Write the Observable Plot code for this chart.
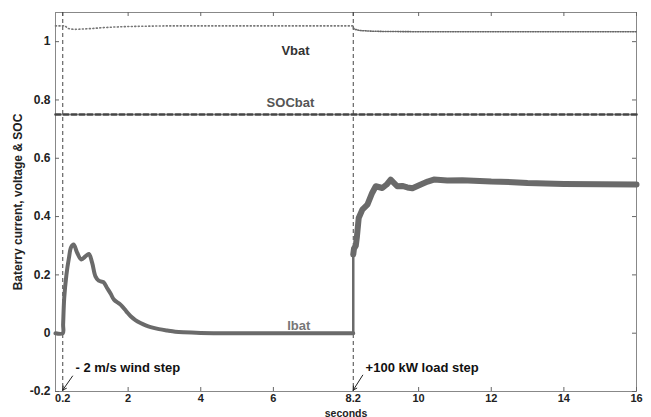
<!DOCTYPE html>
<html><head><meta charset="utf-8">
<script src="https://cdn.jsdelivr.net/npm/d3@7"></script>
<script src="https://cdn.jsdelivr.net/npm/@observablehq/plot@0.6"></script>
<style>body{margin:0;background:#fff}</style>
</head><body><div id="chart"></div>
<script>
// Tick values
const xTicks = [0.2, 2, 4, 6, 8.2, 10, 12, 14, 16];
const yTicks = [-0.2, 0, 0.2, 0.4, 0.6, 0.8, 1];

// Ibat (battery current), before and after the load step
const ibatT1 = [0, 0.2, 0.21, 0.24, 0.30, 0.37, 0.43, 0.50, 0.60, 0.71, 0.83, 0.92, 1.01, 1.10, 1.19, 1.32, 1.42, 1.52, 1.61, 1.79, 1.95, 2.07, 2.2, 2.34, 2.5, 2.62, 2.85, 3.08, 3.3, 3.53, 4.0, 5, 6, 7, 8.2];
const ibatV1 = [0, 0, 0.03, 0.12, 0.20, 0.258, 0.295, 0.304, 0.275, 0.253, 0.264, 0.272, 0.241, 0.195, 0.18, 0.175, 0.155, 0.135, 0.115, 0.098, 0.075, 0.058, 0.045, 0.035, 0.026, 0.021, 0.014, 0.009, 0.005, 0.003, 0.001, 0, 0, 0, 0];
const ibatJumpT = [8.2, 8.2];
const ibatJumpV = [0, 0.27];
const ibatT2 = [8.2, 8.22, 8.27, 8.3, 8.35, 8.45, 8.59, 8.72, 8.82, 9.0, 9.12, 9.23, 9.41, 9.55, 9.69, 9.83, 10.06, 10.25, 10.42, 10.79, 11.2, 11.52, 12, 12.6, 13, 14, 15, 16];
const ibatV2 = [0.27, 0.29, 0.30, 0.33, 0.395, 0.424, 0.441, 0.481, 0.504, 0.498, 0.51, 0.527, 0.504, 0.505, 0.50, 0.497, 0.51, 0.52, 0.527, 0.524, 0.525, 0.523, 0.52, 0.518, 0.515, 0.512, 0.511, 0.51];

// Vbat (battery voltage)
const vbatT1 = [0, 0.2, 0.25, 0.35, 0.5, 0.7, 1.0, 1.3, 1.6, 2.0, 3.0, 5, 8.2];
const vbatV1 = [1.054, 1.054, 1.055, 1.045, 1.042, 1.043, 1.045, 1.048, 1.05, 1.052, 1.054, 1.054, 1.054];
const vbatT2 = [8.2, 8.25, 8.4, 8.7, 9, 10, 12, 14, 16];
const vbatV2 = [1.047, 1.042, 1.038, 1.036, 1.035, 1.034, 1.034, 1.034, 1.034];

// SOCbat
const socT = [0, 16];
const socV = [0.75, 0.75];

// Event times
const eventTimes = [0.2, 8.2];

// Series labels
const seriesNames = ["Vbat", "SOCbat", "Ibat"];
const seriesLabelX = [6.61, 6.47, 6.7];
const seriesLabelY = [0.97, 0.79, 0.024];
const seriesLabelColor = ["#333", "#555", "#777"];

// Event annotations
const eventNames = ["- 2 m/s wind step", "+100 kW load step"];
const eventTextX = [0.55, 8.54];
const eventTextY = [-0.12, -0.12];
const arrowX1 = [0.47, 8.46];
const arrowY1 = [-0.147, -0.144];
const arrowX2 = [0.2, 8.2];
const arrowY2 = [-0.195, -0.195];

const zip = (t, v) => t.map((d, i) => ({t: d, v: v[i]}));
const ibat1 = zip(ibatT1, ibatV1);
const ibatJump = zip(ibatJumpT, ibatJumpV);
const ibat2 = zip(ibatT2, ibatV2);
const vbat1 = zip(vbatT1, vbatV1);
const vbat2 = zip(vbatT2, vbatV2);
const soc = zip(socT, socV);
const seriesLabels = seriesNames.map((n, i) => ({n, x: seriesLabelX[i], y: seriesLabelY[i], c: seriesLabelColor[i]}));
const events = eventNames.map((n, i) => ({n, x: eventTextX[i], y: eventTextY[i], x1: arrowX1[i], y1: arrowY1[i], x2: arrowX2[i], y2: arrowY2[i]}));

const W = 651, H = 417, mT = 12, mB = 26, mL = 55, mR = 15;
const innerH = H - mT - mB, innerW = W - mL - mR;
const fmt = d => String(d);

const chart = Plot.plot({
  width: W, height: H,
  marginLeft: mL, marginRight: mR, marginTop: mT, marginBottom: mB,
  style: {fontFamily: "'Liberation Sans', Arial, sans-serif", fontSize: "12px", fontWeight: "bold", color: "#222", background: "#fff"},
  x: {domain: [0, 16]},
  y: {domain: [-0.2, 1.1]},
  marks: [
    Plot.frame({stroke: "#888"}),
    // inward ticks on all four sides
    Plot.ruleX(xTicks, {insetTop: innerH - 4, stroke: "#666"}),
    Plot.ruleX(xTicks, {insetBottom: innerH - 4, stroke: "#666"}),
    Plot.ruleY(yTicks, {insetRight: innerW - 4, stroke: "#666"}),
    Plot.ruleY(yTicks, {insetLeft: innerW - 4, stroke: "#666"}),
    Plot.axisX(xTicks, {tickSize: 0, tickPadding: 3, tickFormat: fmt, fontSize: 11}),
    Plot.axisX({ticks: [], label: "seconds", labelAnchor: "center", labelOffset: 25, labelArrow: "none", fontSize: 10.5}),
    Plot.axisY(yTicks, {tickSize: 0, tickPadding: 5, tickFormat: fmt, label: "Baterry current, voltage & SOC", labelAnchor: "center", labelOffset: 42, labelArrow: "none", fontSize: 12}),
    Plot.ruleX(eventTimes, {stroke: "#444", strokeWidth: 1, strokeDasharray: "4,3"}),
    Plot.line(soc, {x: "t", y: "v", stroke: "#444", strokeWidth: 2.6, strokeDasharray: "5,3"}),
    Plot.line(vbat1, {x: "t", y: "v", stroke: "#777", strokeWidth: 1.6, strokeDasharray: "1,2.5"}),
    Plot.line(vbat2, {x: "t", y: "v", stroke: "#666", strokeWidth: 1.6, strokeDasharray: "1,1.5"}),
    Plot.line(ibat1, {x: "t", y: "v", stroke: "#6a6a6a", strokeWidth: 4, curve: "catmull-rom"}),
    Plot.line(ibatJump, {x: "t", y: "v", stroke: "#6a6a6a", strokeWidth: 2.5}),
    Plot.line(ibat2, {x: "t", y: "v", stroke: "#6a6a6a", strokeWidth: 6, curve: "linear"}),
    Plot.text(seriesLabels, {x: "x", y: "y", text: "n", fill: "c", fontSize: 13, fontWeight: "bold"}),
    Plot.text(events, {x: "x", y: "y", text: "n", fill: "#111", fontSize: 13, fontWeight: "bold", textAnchor: "start"}),
    Plot.arrow(events, {x1: "x1", y1: "y1", x2: "x2", y2: "y2", stroke: "#222", strokeWidth: 1, headLength: 6})
  ]
});
document.getElementById("chart").appendChild(chart);
</script>
</body></html>
